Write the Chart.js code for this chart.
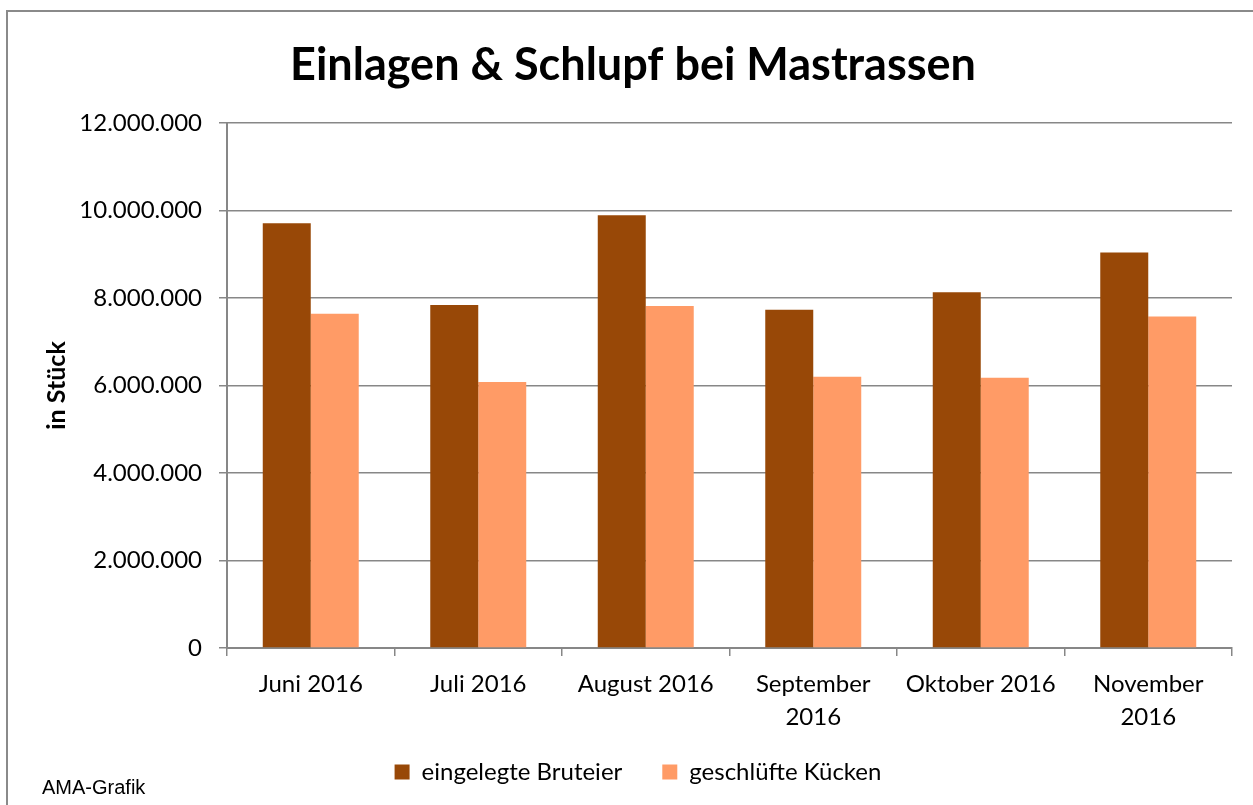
<!DOCTYPE html>
<html>
<head>
<meta charset="utf-8">
<script src="https://cdn.jsdelivr.net/npm/chart.js@4.4.1/dist/chart.umd.min.js"></script>
<style>
  html, body { margin: 0; padding: 0; background: #fff; overflow: hidden; }
  #wrap { position: relative; width: 1253px; height: 805px; }
  #frame { position: absolute; left: 6px; top: 10px; width: 1300px; height: 900px; border: 2px solid #8a8a8a; box-sizing: border-box; }
  #c { position: absolute; left: 0; top: 0; }
  #src { position: absolute; left: 42px; top: 775px; font-family: "Liberation Sans", Arial, sans-serif; font-size: 20px; color: #000; line-height: 24px; }
</style>
</head>
<body>
<div id="wrap">
  <div id="frame"></div>
  <canvas id="c" width="1253" height="805"></canvas>
  <div id="src">AMA-Grafik</div>
</div>
<script>
const titleText = "Einlagen & Schlupf bei Mastrassen";
const yAxisTitle = "in Stück";
const categories = [
  "Juni 2016",
  "Juli 2016",
  "August 2016",
  ["September", "2016"],
  "Oktober 2016",
  ["November", "2016"]
];
const seriesNames = ["eingelegte Bruteier", "geschlüfte Kücken"];
const bruteier = [9710000, 7840000, 9890000, 7730000, 8130000, 9040000];
const kuecken  = [7640000, 6080000, 7820000, 6200000, 6180000, 7580000];
const yMin = 0;
const yMax = 12000000;
const yStep = 2000000;

function fmt(v) {
  return String(Math.round(v)).replace(/\B(?=(\d{3})+(?!\d))/g, ".");
}

const FONT = "Lato, 'Open Sans', sans-serif";
const GRID = "#878787";

const boxShift = {
  id: "boxShift",
  afterLayout(chart) {
    const lg = chart.legend;
    if (lg) {
      const dy = 720 - lg.top;
      lg.top += dy; lg.bottom += dy;
      lg.left += 22; lg.right += 22;
    }
    const tb = chart.titleBlock;
    if (tb) { tb.left += 17; tb.right += 17; }
  }
};

new Chart(document.getElementById("c"), {
  type: "bar",
  data: {
    labels: categories,
    datasets: [
      { label: seriesNames[0], data: bruteier, backgroundColor: "#984807", borderWidth: 0,
        categoryPercentage: 0.573, barPercentage: 1.0 },
      { label: seriesNames[1], data: kuecken, backgroundColor: "#FF9B66", borderWidth: 0,
        categoryPercentage: 0.573, barPercentage: 1.0 }
    ]
  },
  plugins: [boxShift],
  options: {
    responsive: false,
    animation: false,
    devicePixelRatio: 1,
    layout: { padding: { left: 0, right: 21, top: 0, bottom: 0 } },
    plugins: {
      title: {
        display: true,
        text: titleText,
        color: "#000",
        font: { family: FONT, size: 45, weight: "bold", lineHeight: 1.2 },
        padding: { top: 38, bottom: 31 }
      },
      legend: {
        display: true,
        position: "bottom",
        maxHeight: 65,
        labels: {
          color: "#000",
          font: { family: FONT, size: 24, lineHeight: 1.2 },
          boxWidth: 15,
          boxHeight: 15,
          padding: 40
        }
      },
      tooltip: { enabled: false }
    },
    scales: {
      x: {
        offset: true,
        grid: { display: true, drawOnChartArea: false, drawTicks: true, tickLength: 8, color: GRID, lineWidth: 1.5, offset: true },
        border: { display: true, color: GRID, width: 2 },
        ticks: { color: "#000", font: { family: FONT, size: 24, lineHeight: 1.4 }, padding: 11, maxRotation: 0, autoSkip: false },
        afterFit: (s) => { s.height = 92; }
      },
      y: {
        min: yMin,
        max: yMax,
        ticks: { stepSize: yStep, color: "#000", font: { family: FONT, size: 24 }, padding: 17, callback: (v) => fmt(v) },
        grid: { color: GRID, lineWidth: 1.5, tickLength: 8, drawTicks: true },
        border: { display: true, color: GRID, width: 2 },
        title: {
          display: true,
          text: yAxisTitle,
          color: "#000",
          font: { family: FONT, size: 25, weight: "bold", lineHeight: 1.2 },
          padding: { top: 42, bottom: 0 }
        },
        afterFit: (s) => { s.width = 227; }
      }
    }
  }
});
</script>
</body>
</html>
